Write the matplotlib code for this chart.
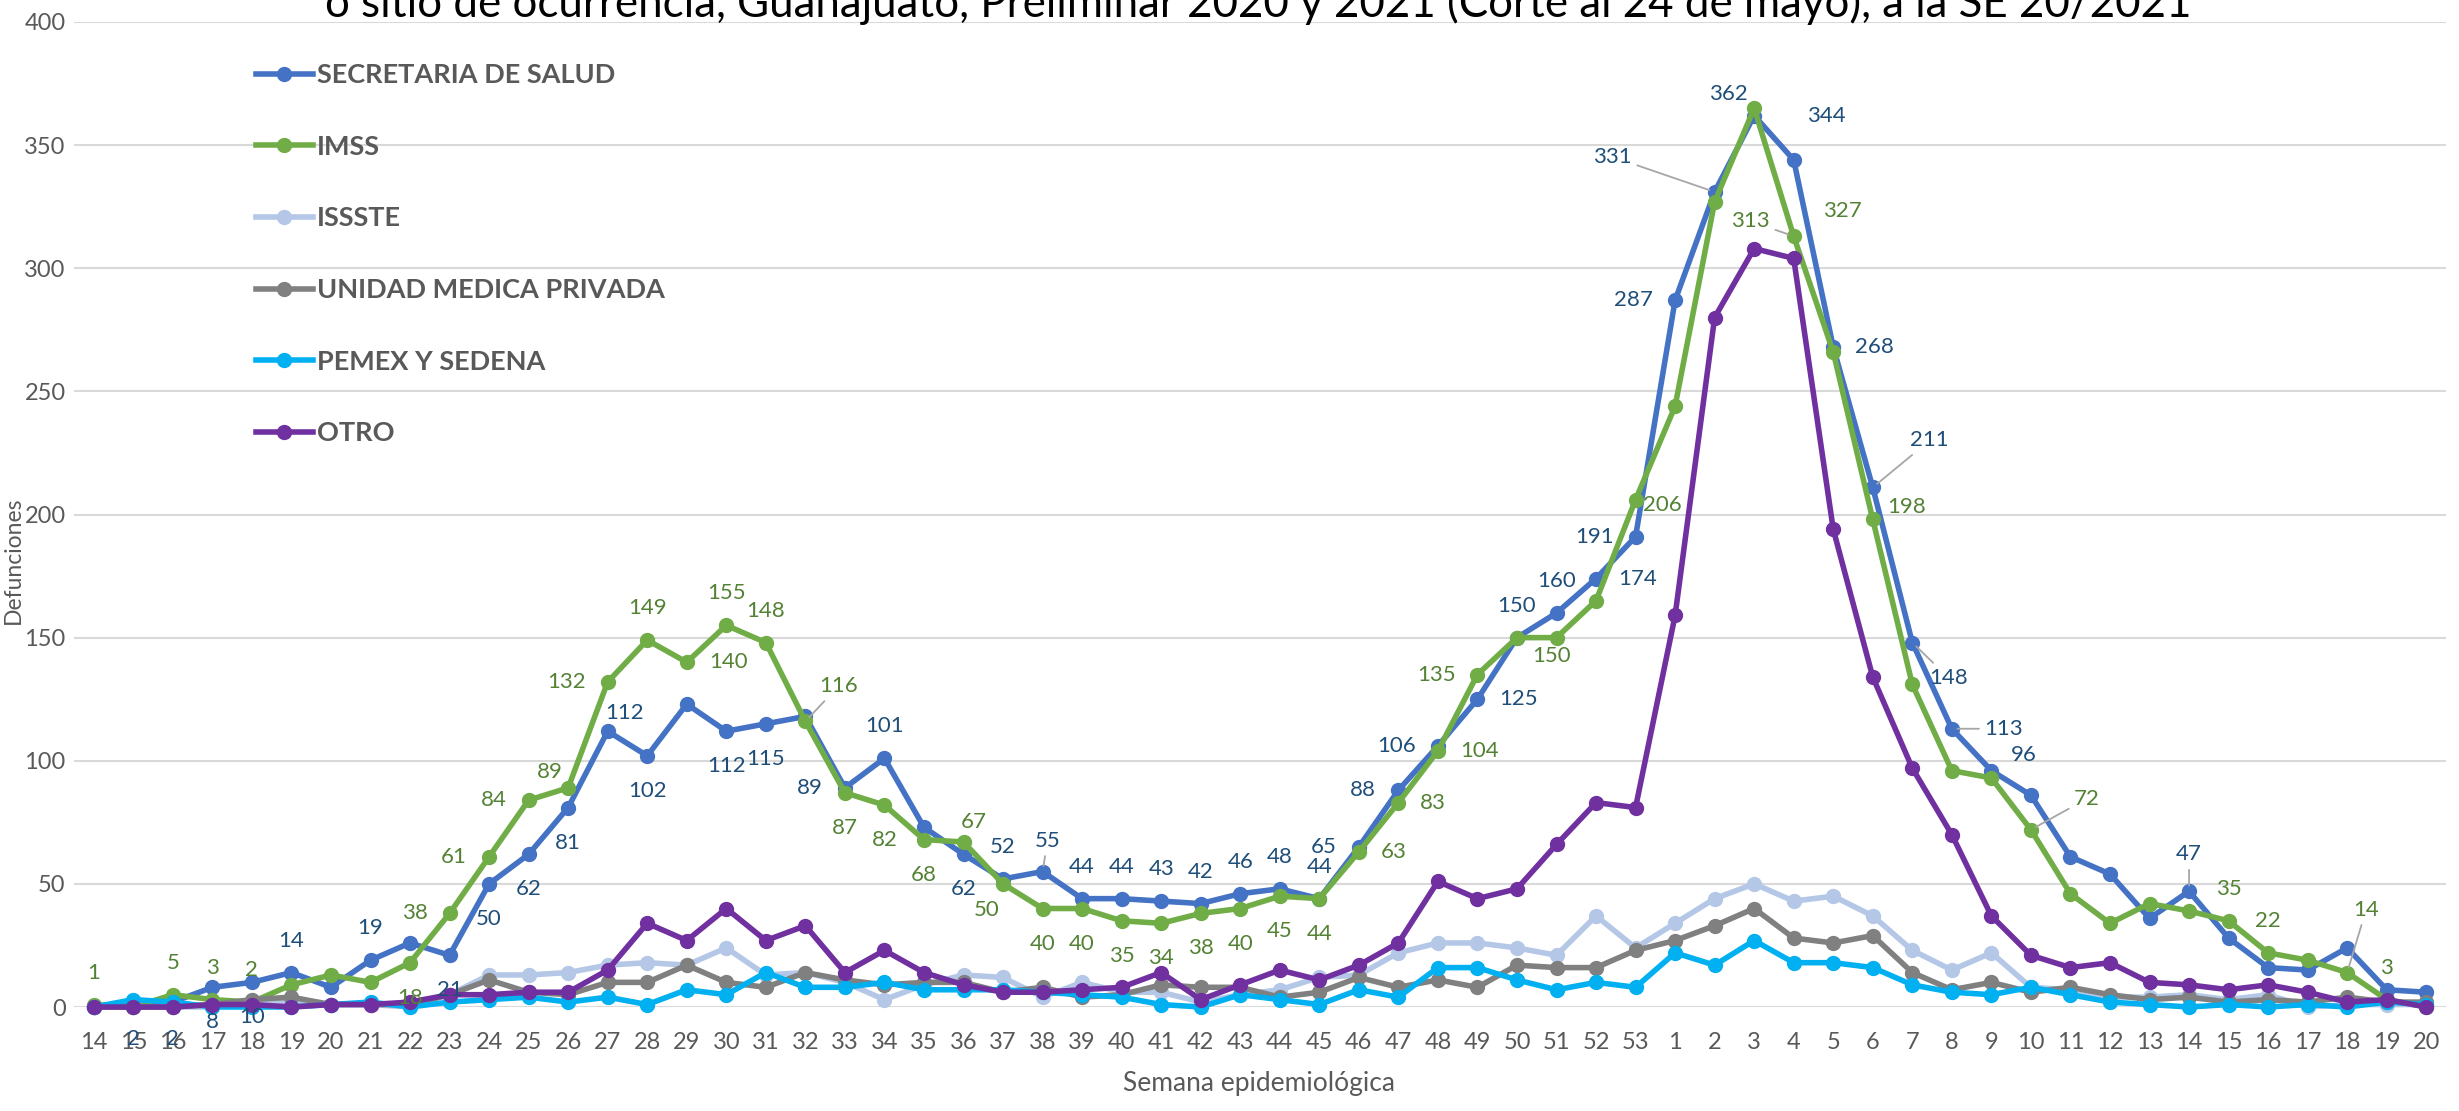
import matplotlib
matplotlib.use('Agg')
import matplotlib.pyplot as plt
import numpy as np

plt.rcParams['font.family'] = ['Lato', 'DejaVu Sans']

# Semanas epidemiologicas: 14-53 de 2020 y 1-20 de 2021
semanas = list(range(14, 54)) + list(range(1, 21))

secretaria = [0, 2, 2, 8, 10, 14, 8, 19, 26, 21,
              50, 62, 81, 112, 102, 123, 112, 115, 118, 89,
              101, 73, 62, 52, 55, 44, 44, 43, 42, 46,
              48, 44, 65, 88, 106, 125, 150, 160, 174, 191,
              287, 331, 362, 344, 268, 211, 148, 113, 96, 86,
              61, 54, 36, 47, 28, 16, 15, 24, 7, 6]
imss = [1, 0, 5, 3, 2, 9, 13, 10, 18, 38,
        61, 84, 89, 132, 149, 140, 155, 148, 116, 87,
        82, 68, 67, 50, 40, 40, 35, 34, 38, 40,
        45, 44, 63, 83, 104, 135, 150, 150, 165, 206,
        244, 327, 365, 313, 266, 198, 131, 96, 93, 72,
        46, 34, 42, 39, 35, 22, 19, 14, 3, 0]
issste = [0, 0, 0, 0, 3, 2, 1, 1, 0, 5,
          13, 13, 14, 17, 18, 17, 24, 13, 14, 10,
          3, 9, 13, 12, 4, 10, 6, 6, 2, 5,
          7, 12, 13, 22, 26, 26, 24, 21, 37, 24,
          34, 44, 50, 43, 45, 37, 23, 15, 22, 8,
          7, 4, 4, 5, 3, 5, 0, 1, 1, 1]
privada = [0, 0, 0, 1, 3, 4, 1, 1, 1, 5,
           11, 6, 5, 10, 10, 17, 10, 8, 14, 11,
           9, 10, 10, 6, 8, 4, 5, 9, 8, 8,
           4, 6, 12, 8, 11, 8, 17, 16, 16, 23,
           27, 33, 40, 28, 26, 29, 14, 7, 10, 6,
           8, 5, 3, 4, 2, 3, 2, 4, 2, 2]
pemex = [0, 3, 2, 0, 0, 0, 1, 2, 0, 2,
         3, 4, 2, 4, 1, 7, 5, 14, 8, 8,
         10, 7, 7, 7, 6, 5, 4, 1, 0, 5,
         3, 1, 7, 4, 16, 16, 11, 7, 10, 8,
         22, 17, 27, 18, 18, 16, 9, 6, 5, 8,
         5, 2, 1, 0, 1, 0, 1, 0, 2, 1]
otro = [0, 0, 0, 1, 1, 0, 1, 1, 2, 5,
        5, 6, 6, 15, 34, 27, 40, 27, 33, 14,
        23, 14, 9, 6, 6, 7, 8, 14, 3, 9,
        15, 11, 17, 26, 51, 44, 48, 66, 83, 81,
        159, 280, 308, 304, 194, 134, 97, 70, 37, 21,
        16, 18, 10, 9, 7, 9, 6, 2, 3, 0]

series = [
    ('SECRETARIA DE SALUD', secretaria, '#4472C4'),
    ('IMSS', imss, '#70AD47'),
    ('ISSSTE', issste, '#B4C7E7'),
    ('UNIDAD MEDICA PRIVADA', privada, '#808080'),
    ('PEMEX Y SEDENA', pemex, '#00B0F0'),
    ('OTRO', otro, '#7030A0'),
]

titulo = ('o sitio de ocurrencia, Guanajuato, Preliminar 2020 y 2021 '
          '(Corte al 24 de mayo), a la SE 20/2021')

# donde va cada etiqueta de datos: a=arriba, b=abajo, l=izquierda, r=derecha,
# o desplazamiento en pixeles; True = con linea guia
A, B, L, R = 'a', 'b', 'l', 'r'
etiq_secretaria = [(1, (0, -37)), (2, (0, -37)), (3, B), (4, B), (5, A), (7, A),
                   (9, B), (10, B), (11, B), (12, B), (13, (17, 18)), (14, B),
                   (16, B), (17, B), (19, L), (20, A), (22, B), (23, A),
                   (24, (5, 31), True), (25, A), (26, A), (27, A), (28, A),
                   (29, A), (30, A), (31, A), (32, L), (33, L), (34, L),
                   (35, R), (36, A), (37, A), (38, R), (39, L), (40, L),
                   (41, (-102, 35), True), (42, (-26, 22)), (43, (33, 44)),
                   (44, R), (45, (57, 47), True), (46, (36, -35), True),
                   (47, (52, 0), True), (48, (32, 16)), (53, (0, 37), True)]
etiq_imss = [(0, A), (2, A), (3, A), (4, A), (8, B), (9, L), (10, L), (11, L),
             (12, (-18, 16)), (13, L), (14, A), (15, R), (16, A), (17, A),
             (18, (33, 35), True), (19, B), (20, B), (21, B), (22, (10, 20)),
             (23, (-16, -26)), (24, B), (25, B), (26, B), (27, B), (28, B),
             (29, B), (30, B), (31, B), (32, R), (33, R), (34, R), (35, L),
             (37, (-5, -18)), (39, (27, -5)), (41, (128, -9)),
             (43, (-43, 15), True), (45, (34, 12)), (49, (56, 31), True),
             (54, A), (55, A), (57, (19, 63), True), (58, A)]

W, H = 2459, 1111
fig = plt.figure(figsize=(W / 100, H / 100), dpi=100)
ax = fig.add_axes([74 / W, 104 / H, (2446 - 74) / W, 985 / H])

x = np.arange(len(semanas))
for k, (nombre, valores, color) in enumerate(series):
    ax.plot(x, valores, color=color, lw=4, marker='o', ms=10, label=nombre,
            zorder=3 + k, clip_on=False)


def etiquetar(valores, etiquetas, color):
    for e in etiquetas:
        i, pos = e[0], e[1]
        guia = len(e) > 2
        ha = 'center'
        if pos == A:
            dx, dy = 0, 32
        elif pos == B:
            dx, dy = 0, -35
        elif pos == L:
            dx, dy, ha = -22, 0, 'right'
        elif pos == R:
            dx, dy, ha = 22, 0, 'left'
        else:
            dx, dy = pos
        props = None
        if guia:
            props = dict(arrowstyle='-', color='#A6A6A6', lw=1.3,
                         shrinkA=2, shrinkB=4)
        ax.annotate(str(valores[i]), (x[i], valores[i]), xytext=(dx, dy),
                    textcoords='offset pixels', ha=ha, va='center',
                    fontsize=16, color=color, zorder=20,
                    annotation_clip=False, arrowprops=props)


etiquetar(secretaria, etiq_secretaria, '#1F4E79')
etiquetar(imss, etiq_imss, '#548235')

ax.set_xlim(-0.5, len(semanas) - 0.5)
ax.set_ylim(0, 400)
ax.set_yticks(np.arange(0, 401, 50))
ax.set_xticks(x)
ax.set_xticklabels([str(s) for s in semanas])
ax.yaxis.grid(True, color='#D9D9D9', lw=1.5)
ax.set_axisbelow(True)
for s in ax.spines.values():
    s.set_visible(False)
ax.tick_params(axis='both', length=0, labelsize=17, labelcolor='#595959')
ax.tick_params(axis='x', pad=18)
ax.tick_params(axis='y', pad=6)

fig.text(13 / W, 1 - 560 / H, 'Defunciones', rotation=90, ha='center',
         va='center', fontsize=16.5, color='#595959')
fig.text(1259 / W, 1 - 1083 / H, 'Semana epidemiológica', ha='center',
         va='center', fontsize=19, color='#595959')

leg = ax.legend(loc='upper left', bbox_to_anchor=(256 / W, 1 - 63 / H),
                bbox_transform=fig.transFigure, frameon=False,
                prop={'weight': 'bold', 'size': 19.5}, handlelength=2.1,
                handletextpad=0.15, labelspacing=1.76, borderpad=0,
                borderaxespad=0)
for t in leg.get_texts():
    t.set_color('#595959')

# titulo cortado arriba; ajustar tamano al ancho del original
tt = fig.text(1258 / W, 1 - 17 / H, titulo, ha='center', va='baseline',
              fontsize=29, color='black')
fig.canvas.draw()
ancho = tt.get_window_extent().width
tt.set_fontsize(29 * 1863 / ancho)

fig.savefig('out.png', dpi=100)
